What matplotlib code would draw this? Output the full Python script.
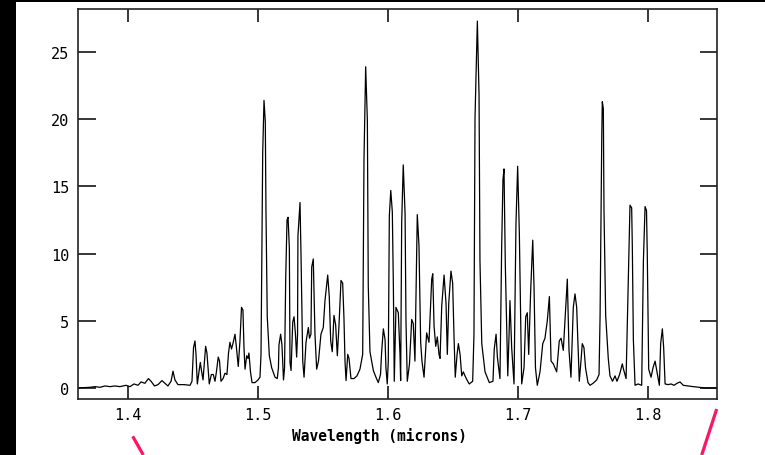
import matplotlib
matplotlib.use("Agg")
import matplotlib.pyplot as plt
from matplotlib.lines import Line2D
from matplotlib.patches import Rectangle

wavelength = [
    1.3611, 1.3705, 1.3744, 1.3782, 1.3821, 1.3859, 1.3898, 1.3936, 1.3982, 1.4013,
    1.4044, 1.4075, 1.4098, 1.4128, 1.4155, 1.4175, 1.4202, 1.4229, 1.4259, 1.4282,
    1.4305, 1.4329, 1.4344, 1.4359, 1.4382, 1.4429, 1.4475, 1.4490, 1.4502, 1.4513,
    1.4521, 1.4531, 1.4544, 1.4554, 1.4563, 1.4575, 1.4586, 1.4595, 1.4605, 1.4623,
    1.4639, 1.4654, 1.4667, 1.4678, 1.4692, 1.4702, 1.4713, 1.4729, 1.4744, 1.4759,
    1.4771, 1.4782, 1.4794, 1.4805, 1.4821, 1.4832, 1.4846, 1.4859, 1.4871, 1.4882,
    1.4890, 1.4898, 1.4911, 1.4921, 1.4928, 1.4940, 1.4952, 1.4975, 1.4998, 1.5013,
    1.5021, 1.5026, 1.5034, 1.5044, 1.5054, 1.5059, 1.5069, 1.5085, 1.5103, 1.5129,
    1.5146, 1.5155, 1.5159, 1.5172, 1.5182, 1.5194, 1.5202, 1.5211, 1.5221, 1.5229,
    1.5239, 1.5244, 1.5252, 1.5265, 1.5275, 1.5286, 1.5295, 1.5302, 1.5305, 1.5321,
    1.5329, 1.5342, 1.5352, 1.5367, 1.5385, 1.5394, 1.5405, 1.5411, 1.5423, 1.5436,
    1.5449, 1.5463, 1.5482, 1.5500, 1.5513, 1.5534, 1.5546, 1.5557, 1.5569, 1.5582,
    1.5595, 1.5608, 1.5621, 1.5636, 1.5649, 1.5659, 1.5667, 1.5675, 1.5688, 1.5698,
    1.5713, 1.5736, 1.5759, 1.5782, 1.5803, 1.5813, 1.5826, 1.5839, 1.5846, 1.5859,
    1.5885, 1.5905, 1.5923, 1.5940, 1.5949, 1.5962, 1.5975, 1.5982, 1.5992, 1.6000,
    1.6008, 1.6019, 1.6031, 1.6039, 1.6046, 1.6059, 1.6077, 1.6090, 1.6095, 1.6103,
    1.6115, 1.6129, 1.6136, 1.6146, 1.6163, 1.6180, 1.6192, 1.6205, 1.6213, 1.6223,
    1.6236, 1.6249, 1.6259, 1.6275, 1.6295, 1.6313, 1.6334, 1.6342, 1.6352, 1.6365,
    1.6377, 1.6390, 1.6398, 1.6411, 1.6429, 1.6444, 1.6454, 1.6465, 1.6482, 1.6495,
    1.6505, 1.6515, 1.6529, 1.6539, 1.6552, 1.6565, 1.6577, 1.6590, 1.6605, 1.6623,
    1.6649, 1.6659, 1.6667, 1.6685, 1.6698, 1.6705, 1.6719, 1.6744, 1.6777, 1.6805,
    1.6815, 1.6829, 1.6839, 1.6859, 1.6872, 1.6882, 1.6890, 1.6900, 1.6919, 1.6929,
    1.6936, 1.6949, 1.6967, 1.6982, 1.6995, 1.7008, 1.7026, 1.7044, 1.7057, 1.7069,
    1.7080, 1.7095, 1.7111, 1.7121, 1.7132, 1.7146, 1.7167, 1.7188, 1.7205, 1.7223,
    1.7239, 1.7252, 1.7269, 1.7295, 1.7315, 1.7329, 1.7346, 1.7367, 1.7377, 1.7390,
    1.7405, 1.7423, 1.7436, 1.7449, 1.7469, 1.7482, 1.7492, 1.7505, 1.7517, 1.7536,
    1.7552, 1.7575, 1.7603, 1.7621, 1.7629, 1.7642, 1.7646, 1.7654, 1.7659, 1.7672,
    1.7692, 1.7705, 1.7725, 1.7744, 1.7759, 1.7779, 1.7800, 1.7809, 1.7829, 1.7846,
    1.7859, 1.7872, 1.7877, 1.7885, 1.7898, 1.7921, 1.7949, 1.7962, 1.7975, 1.7986,
    1.7992, 1.8003, 1.8021, 1.8036, 1.8052, 1.8065, 1.8075, 1.8085, 1.8095, 1.8108,
    1.8118, 1.8129, 1.8152, 1.8175, 1.8198, 1.8221, 1.8244, 1.8269, 1.8305, 1.8344,
    1.8375, 1.8436, 1.8526,
]

intensity = [
    0.0, 0.05, 0.1, 0.05, 0.15, 0.1, 0.15, 0.1, 0.2, 0.1,
    0.3, 0.2, 0.45, 0.35, 0.7, 0.5, 0.15, 0.25, 0.55, 0.35,
    0.15, 0.5, 1.25, 0.6, 0.25, 0.25, 0.2, 0.5, 3.0, 3.5,
    2.5, 0.3, 1.2, 1.9, 1.3, 0.6, 2.0, 3.1, 2.6, 0.3,
    1.0, 1.0, 0.5, 1.2, 2.3, 2.0, 0.5, 0.7, 1.1, 1.0,
    2.6, 3.4, 2.9, 3.3, 4.0, 3.0, 1.6, 3.5, 6.0, 5.8,
    3.0, 1.4, 2.4, 2.2, 2.6, 1.2, 0.4, 0.4, 0.6, 0.8,
    2.5, 8.1, 17.5, 21.4, 19.8, 13.3, 5.3, 2.4, 1.5, 0.8,
    0.7, 1.5, 3.2, 4.0, 3.2, 0.6, 1.5, 8.2, 12.5, 12.7,
    10.4, 1.9, 1.3, 4.9, 5.3, 4.0, 2.3, 4.0, 11.3, 13.8,
    9.7, 2.0, 0.8, 3.4, 4.5, 3.7, 4.0, 9.0, 9.6, 4.0,
    1.4, 2.0, 4.0, 4.5, 6.5, 8.4, 6.8, 3.5, 2.7, 5.4,
    4.7, 2.4, 4.7, 8.0, 7.8, 5.2, 2.0, 0.55, 2.5, 2.2,
    0.7, 0.7, 0.9, 1.4, 2.5, 17.0, 23.9, 19.9, 7.6, 2.7,
    1.3, 0.8, 0.4, 1.0, 2.7, 4.4, 3.6, 1.5, 0.3, 2.0,
    12.8, 14.7, 13.1, 7.6, 0.5, 6.0, 5.6, 2.5, 0.55, 12.3,
    16.6, 13.0, 5.0, 0.5, 1.8, 5.1, 4.8, 2.0, 7.0, 12.9,
    10.6, 3.4, 2.0, 0.8, 4.1, 3.4, 8.1, 8.5, 4.6, 3.1,
    3.8, 2.5, 2.2, 6.1, 8.4, 6.3, 2.5, 6.3, 8.7, 7.8,
    4.0, 0.8, 2.5, 3.3, 2.5, 0.9, 1.2, 0.9, 0.6, 0.3,
    0.5, 4.0, 20.1, 27.3, 21.8, 9.5, 3.3, 1.2, 0.4, 0.5,
    2.9, 4.0, 2.3, 0.7, 10.5, 15.5, 16.3, 9.2, 0.9, 4.0,
    6.5, 3.0, 0.3, 12.2, 16.5, 11.5, 0.3, 1.5, 5.3, 5.6,
    2.5, 7.2, 11.0, 7.5, 1.5, 0.2, 1.2, 3.3, 3.7, 5.0,
    6.8, 2.0, 1.8, 1.2, 3.5, 3.7, 2.8, 6.3, 8.1, 2.8,
    0.8, 6.0, 7.0, 6.0, 0.5, 2.0, 3.3, 3.0, 1.5, 0.4,
    0.2, 0.35, 0.6, 1.0, 5.4, 18.7, 21.3, 20.8, 13.3, 5.4,
    2.2, 0.9, 0.5, 0.9, 0.5, 1.0, 1.8, 1.4, 0.7, 7.9,
    13.6, 13.4, 10.5, 3.6, 0.2, 0.3, 0.2, 9.4, 13.5, 13.2,
    10.0, 1.4, 0.8, 1.5, 2.0, 1.3, 0.8, 0.2, 3.3, 4.4,
    3.0, 0.3, 0.25, 0.3, 0.2, 0.35, 0.45, 0.2, 0.15, 0.1,
    0.07, 0.0, 0.0,
]

x_ticks = [1.4, 1.5, 1.6, 1.7, 1.8]
x_tick_labels = ["1.4", "1.5", "1.6", "1.7", "1.8"]
y_ticks = [0, 5, 10, 15, 20, 25]
y_tick_labels = ["0", "5", "10", "15", "20", "25"]
x_range = (1.3611, 1.8526)
y_range = (-0.82, 28.2)

W, H = 765, 456
fig = plt.figure(figsize=(W / 100, H / 100), dpi=100, facecolor="black")
fig.add_artist(Rectangle((16 / W, 0), 1 - 16 / W, 1 - 3 / H, transform=fig.transFigure,
                         facecolor="white", edgecolor="none", zorder=0))

ax = fig.add_axes([77.7 / W, 1 - 400 / H, (716.7 - 77.7) / W, (400 - 10) / H])
ax.set_facecolor("white")
ax.plot(wavelength, intensity, color="black", lw=0.9)
ax.set_xlim(*x_range)
ax.set_ylim(*y_range)

mono = "DejaVu Sans Mono"
ax.set_xticks(x_ticks)
ax.set_xticklabels(x_tick_labels, family=mono, fontsize=11)
ax.set_yticks(y_ticks)
ax.set_yticklabels(y_tick_labels, family=mono, fontsize=11)
ax.tick_params(axis="x", direction="in", length=9.7, width=1.1, top=True, pad=6, colors="black")
ax.tick_params(axis="y", direction="in", length=12.6, width=1.1, right=True, pad=6, colors="black")
ax.minorticks_off()
for s in ax.spines.values():
    s.set_linewidth(1.2)
    s.set_color("#222222")

ax.set_xlabel("Wavelength (microns)", family=mono, fontsize=10.5, fontweight="bold")
ax.xaxis.set_label_coords((380 - 77.7) / (716.7 - 77.7), -(436 - 400) / 390)
ax.xaxis.label.set_va("center")

pink = "#ff1464"
fig.add_artist(Line2D([132.7 / W, 143.3 / W], [1 - 437.3 / H, 0], transform=fig.transFigure,
                      color=pink, lw=2.3, solid_capstyle="butt"))
fig.add_artist(Line2D([716.7 / W, 701.7 / W], [1 - 410 / H, 0], transform=fig.transFigure,
                      color=pink, lw=2.3, solid_capstyle="butt"))

fig.savefig("out.png", dpi=100, facecolor=fig.get_facecolor())
